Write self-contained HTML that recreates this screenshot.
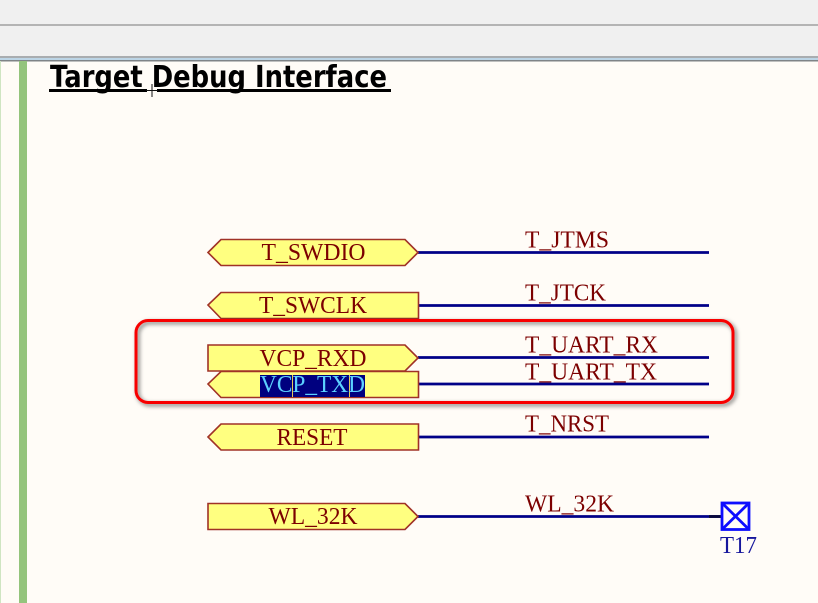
<!DOCTYPE html>
<html>
<head>
<meta charset="utf-8">
<style>
html,body{margin:0;padding:0;background:#fffcf7;}
svg{display:block;}
text{font-family:"Liberation Serif",serif;}
</style>
</head>
<body>
<svg width="818" height="603" viewBox="0 0 818 603" xmlns="http://www.w3.org/2000/svg">
<defs>
<filter id="s" x="-5%" y="-20%" width="110%" height="140%"><feDropShadow dx="2" dy="2" stdDeviation="2" flood-color="#000" flood-opacity="0.55"/></filter>
<filter id="b" x="-5%" y="-5%" width="110%" height="110%"><feGaussianBlur stdDeviation="0.3"/></filter>
</defs>
<rect width="818" height="603" fill="#fffcf7"/>
<rect width="818" height="58" fill="#f0f0f0"/>
<rect x="0" y="24" width="818" height="2" fill="#b4b4b4"/>
<rect x="0" y="56" width="818" height="2" fill="#a9adb0"/>
<rect x="0" y="58" width="818" height="2" fill="#bcd5e6"/>
<rect x="0" y="60" width="818" height="1.5" fill="#7f8487"/>
<rect x="0" y="61" width="1" height="542" fill="#cfe5c2"/>
<rect x="19" y="61" width="8" height="542" fill="#94c47c"/>

<g filter="url(#b)">
<text x="50" y="87" font-size="30" font-weight="bold" textLength="337" lengthAdjust="spacingAndGlyphs" style="font-family:'DejaVu Sans',sans-serif" fill="#000">Target Debug Interface</text>
<rect x="49" y="89" width="342" height="3" fill="#000"/>
</g>
<rect x="147" y="89" width="10" height="4" fill="#fffcf7"/>
<path d="M146 90.500H158M152 84V97" stroke="#111" stroke-width="1"/>

<g stroke="#000088" stroke-width="2.800" filter="url(#b)">
<path d="M418 252.500H709M418 305.500H709M418 357.500H709M418 384H709M418 437H709"/>
<path d="M418 516.500H721"/>
</g>

<g fill="#ffff80" stroke="#a03028" stroke-width="1.600" filter="url(#b)">
<polygon points="208,252.500 221,239.500 405,239.500 418,252.500 405,265.500 221,265.500"/>
<polygon points="208,305 221,292.500 418.500,292.500 418.500,318.500 221,318.500"/>
<polygon points="208,345 405,345 418,358 405,371 208,371"/>
<polygon points="208,384 221,371.500 418.500,371.500 418.500,397.500 221,397.500"/>
<polygon points="208,437 221,424 418.500,424 418.500,450 221,450"/>
<polygon points="208,503.500 405,503.500 418,516.500 405,529.500 208,529.500"/>
</g>

<rect x="260" y="375" width="105" height="22" fill="#00007f"/>
<path d="M292.500 375V397M349.500 375V397" stroke="#e6c85a" stroke-width="1"/>

<g font-size="24.500" fill="#7c0000" filter="url(#b)" text-anchor="middle">
<text x="313.500" y="260" textLength="104" lengthAdjust="spacingAndGlyphs">T_SWDIO</text>
<text x="313" y="313" textLength="108" lengthAdjust="spacingAndGlyphs">T_SWCLK</text>
<text x="313" y="366" textLength="107" lengthAdjust="spacingAndGlyphs">VCP_RXD</text>
<text x="312.500" y="392" textLength="105" lengthAdjust="spacingAndGlyphs" fill="#5cd0ff">VCP_TXD</text>
<text x="312" y="445" textLength="71" lengthAdjust="spacingAndGlyphs">RESET</text>
<text x="313" y="524" textLength="89" lengthAdjust="spacingAndGlyphs">WL_32K</text>
</g>

<g font-size="24.500" fill="#7c0000" filter="url(#b)">
<text x="525" y="247.500" textLength="84" lengthAdjust="spacingAndGlyphs">T_JTMS</text>
<text x="525" y="300.500" textLength="81" lengthAdjust="spacingAndGlyphs">T_JTCK</text>
<text x="525" y="352.500" textLength="133" lengthAdjust="spacingAndGlyphs">T_UART_RX</text>
<text x="525" y="379.500" textLength="132" lengthAdjust="spacingAndGlyphs">T_UART_TX</text>
<text x="525" y="431.500" textLength="84" lengthAdjust="spacingAndGlyphs">T_NRST</text>
<text x="525" y="511.500" textLength="89" lengthAdjust="spacingAndGlyphs">WL_32K</text>
</g>

<rect x="136" y="320.500" width="597" height="82" rx="12" ry="12" fill="none" stroke="#f80000" stroke-width="3" filter="url(#s)"/>

<path d="M709 516.500H722" stroke="#08083a" stroke-width="2.800"/>
<g fill="none" stroke="#0a0aff" stroke-width="2.800" filter="url(#b)">
<rect x="722" y="503" width="27" height="26.500"/>
<path d="M722 503L749 529.500M749 503L722 529.500"/>
</g>
<text x="720" y="553" font-size="24.500" fill="#14149c" textLength="37" lengthAdjust="spacingAndGlyphs" filter="url(#b)">T17</text>
</svg>
</body>
</html>
